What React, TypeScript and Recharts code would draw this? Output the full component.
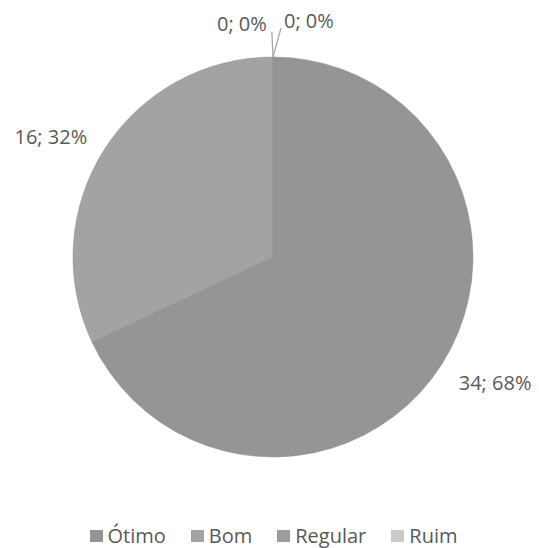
import { Cell, Legend, Pie, PieChart } from 'recharts'

const categories = ['Ótimo', 'Bom', 'Regular', 'Ruim']
const counts = [34, 16, 0, 0]
const sliceColors = ['#959595', '#a3a3a3', '#9c9c9c', '#c9c9c9']

const data = categories.map((name, i) => ({ name, value: counts[i] }))

const FONT = '"Open Sans", sans-serif'
const TEXT = '#595959'
const RAD = Math.PI / 180
const FS = 20

function renderLabel(props: any) {
  const { cx, cy, midAngle, outerRadius, value, percent, index } = props
  const text = `${value}; ${Math.round(percent * 100)}%`
  if (value === 0) {
    // zero slices sit together at the top; split them left/right with leader lines
    const left = index % 2 === 0
    const a = (left ? midAngle + 0.3 : midAngle - 2) * RAD
    const r1 = outerRadius + (left ? 25 : 29)
    const ex = cx + r1 * Math.cos(a)
    const ey = cy - r1 * Math.sin(a)
    return (
      <g key={`l${index}`}>
        <path d={`M${cx},${cy - outerRadius}L${ex},${ey}`} stroke="#a6a6a6" strokeWidth={1.3} fill="none" />
        <text
          x={left ? ex - 5 : ex + 3}
          y={left ? ey - 9 : ey - 8}
          textAnchor={left ? 'end' : 'start'}
          dominantBaseline="central"
          fill={TEXT}
          fontSize={FS}
          fontFamily={FONT}
        >
          {text}
        </text>
      </g>
    )
  }
  const a = midAngle * RAD
  const r = outerRadius + 20
  const x = cx + r * Math.cos(a)
  const y = cy - r * Math.sin(a)
  const right = Math.cos(a) >= 0
  return (
    <text
      key={`l${index}`}
      x={x}
      y={right ? y + 8 : y - 3}
      textAnchor={right ? 'start' : 'end'}
      dominantBaseline="central"
      fill={TEXT}
      fontSize={FS}
      fontFamily={FONT}
    >
      {text}
    </text>
  )
}

function LegendContent() {
  return (
    <div
      style={{
        display: 'flex',
        justifyContent: 'center',
        alignItems: 'center',
        fontFamily: FONT,
        fontSize: FS,
        lineHeight: '22px',
        height: 22,
        color: TEXT,
        paddingLeft: 8,
      }}
    >
      {categories.map((c, i) => (
        <span key={c} style={{ display: 'flex', alignItems: 'center', marginRight: i < 3 ? 25 : 0 }}>
          <span style={{ width: 13, height: 12, background: sliceColors[i], marginRight: 5, display: 'inline-block' }} />
          {c}
        </span>
      ))}
    </div>
  )
}

export default function App() {
  return (
    <div style={{ position: 'absolute', left: 0, top: 0, width: 539, height: 548, background: '#fff' }}>
      <PieChart width={539} height={548} margin={{ top: 0, right: 0, bottom: 0, left: 0 }}>
        <Pie
          data={data}
          dataKey="value"
          nameKey="name"
          cx={273}
          cy={257}
          outerRadius={200}
          startAngle={90}
          endAngle={-270}
          stroke="#8d8d8d"
          strokeWidth={0.5}
          label={renderLabel}
          labelLine={false}
          isAnimationActive={false}
        >
          {data.map((d, i) => (
            <Cell key={d.name} fill={sliceColors[i]} />
          ))}
        </Pie>
        <Legend
          content={<LegendContent />}
          wrapperStyle={{ top: 525, left: 0, width: 539 }}
        />
      </PieChart>
    </div>
  )
}
